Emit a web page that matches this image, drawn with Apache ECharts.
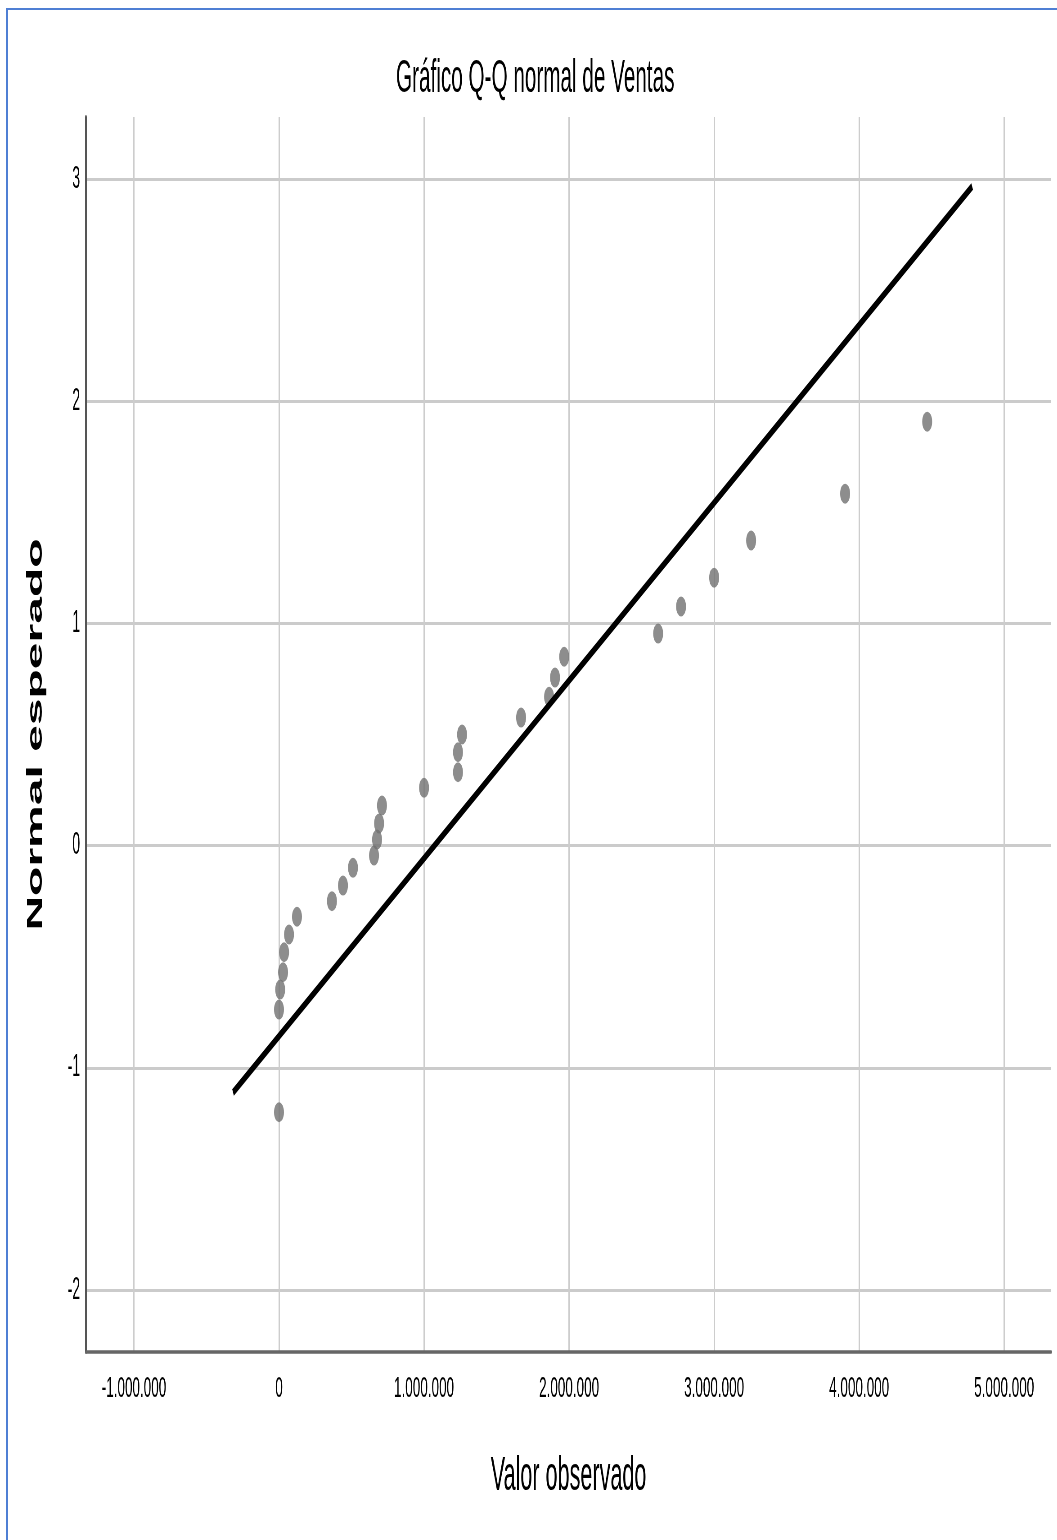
<!DOCTYPE html>
<html>
<head>
<meta charset="utf-8">
<script src="https://cdn.jsdelivr.net/npm/echarts@6/dist/echarts.min.js"></script>
<style>
html,body{margin:0;padding:0;background:#fff;overflow:hidden;width:1057px;height:1540px;}
#frame{position:absolute;left:6px;top:8px;width:1200px;height:1600px;border-left:2px solid #4f7fd4;border-top:2px solid #4f7fd4;pointer-events:none;z-index:2;}
#chart{position:absolute;left:0;top:0;width:2349px;height:1540px;transform:scaleX(0.45);transform-origin:0 0;}
</style>
</head>
<body>
<div id="chart"></div>
<div id="frame"></div>
<script>
// ---- data ----
const titleText = 'Gráfico Q-Q normal de Ventas';
const xAxisName = 'Valor observado';
const yAxisName = 'Normal esperado';

const observedValues = [0, 0, 8000, 28000, 35000, 69000, 124000, 365000, 441000, 510000,
  655000, 676000, 690000, 710000, 1000000, 1234000, 1234000, 1262000, 1669000, 1862000,
  1903000, 1966000, 2614000, 2772000, 3000000, 3255000, 3903000, 4469000];
const expectedNormal = [-1.20, -0.738, -0.648, -0.57, -0.48, -0.40, -0.32, -0.25, -0.18, -0.10,
  -0.045, 0.027, 0.10, 0.18, 0.26, 0.33, 0.42, 0.50, 0.576, 0.67,
  0.756, 0.85, 0.954, 1.076, 1.206, 1.373, 1.584, 1.908];

const refLineX = [-317000, 4779000];
const refLineY = [-1.111, 2.966];

const xTickValues = [-1000000, 0, 1000000, 2000000, 3000000, 4000000, 5000000];
const xTickLabels = ['-1.000.000', '0', '1.000.000', '2.000.000', '3.000.000', '4.000.000', '5.000.000'];
const yTickValues = [-2, -1, 0, 1, 2, 3];
const yTickLabels = ['-2', '-1', '0', '1', '2', '3'];

const xRange = [-1331000, 5324000];
const yRange = [-2.279, 3.279];

// ---- chart ----
const FONT = 'Arial, "Liberation Sans", sans-serif';
const chart = echarts.init(document.getElementById('chart'), null, {renderer: 'canvas'});

function lookup(values, labels, v) {
  for (let i = 0; i < values.length; i++) {
    if (Math.abs(values[i] - v) < 1e-6 * Math.max(1, Math.abs(v))) return labels[i];
  }
  return '';
}

const option = {
  animation: false,
  backgroundColor: '#ffffff',
  title: {
    text: titleText,
    left: 880,
    top: 56,
    padding: 0,
    textStyle: {fontFamily: FONT, fontSize: 46, lineHeight: 46, fontWeight: 'normal', color: '#000'}
  },
  grid: {left: 191, right: 13, top: 117, bottom: 188, containLabel: false},
  xAxis: {
    type: 'value',
    min: xRange[0],
    max: xRange[1],
    splitNumber: 6,
    name: xAxisName,
    nameLocation: 'middle',
    nameGap: 101,
    nameTextStyle: {fontFamily: FONT, fontSize: 48, lineHeight: 48, color: '#000'},
    axisLine: {onZero: false, lineStyle: {color: '#666', width: 3.5}},
    axisTick: {show: false},
    axisLabel: {
      showMinLabel: false, showMaxLabel: false,
      margin: 22, fontFamily: FONT, fontSize: 30, lineHeight: 30, color: '#000',
      formatter: v => lookup(xTickValues, xTickLabels, v)
    },
    splitLine: {show: true, showMinLine: false, showMaxLine: false, lineStyle: {color: '#cdcdcd', width: 3}}
  },
  yAxis: {
    type: 'value',
    min: yRange[0],
    max: yRange[1],
    splitNumber: 5,
    name: yAxisName,
    nameLocation: 'middle',
    nameGap: 87,
    nameTextStyle: {fontFamily: FONT, fontSize: 48, lineHeight: 48, fontWeight: 'bold', color: '#000'},
    axisLine: {onZero: false, lineStyle: {color: '#555', width: 4}},
    axisTick: {show: false},
    axisLabel: {
      showMinLabel: false, showMaxLabel: false,
      margin: 13, fontFamily: FONT, fontSize: 31, color: '#000',
      formatter: v => lookup(yTickValues, yTickLabels, v)
    },
    splitLine: {show: true, showMinLine: false, showMaxLine: false, lineStyle: {color: '#cbcbcb', width: 3}}
  },
  series: [
    {
      type: 'scatter',
      data: observedValues.map((x, i) => [x, expectedNormal[i]]),
      symbol: 'circle',
      symbolSize: [22, 20],
      itemStyle: {color: '#707070'},
      silent: true,
      z: 2
    },
    {
      type: 'line',
      data: refLineX.map((x, i) => [x, refLineY[i]]),
      showSymbol: false,
      symbol: 'none',
      lineStyle: {color: '#000', width: 7.5, cap: 'butt'},
      silent: true,
      z: 3
    }
  ]
};
chart.setOption(option);
</script>
</body>
</html>
